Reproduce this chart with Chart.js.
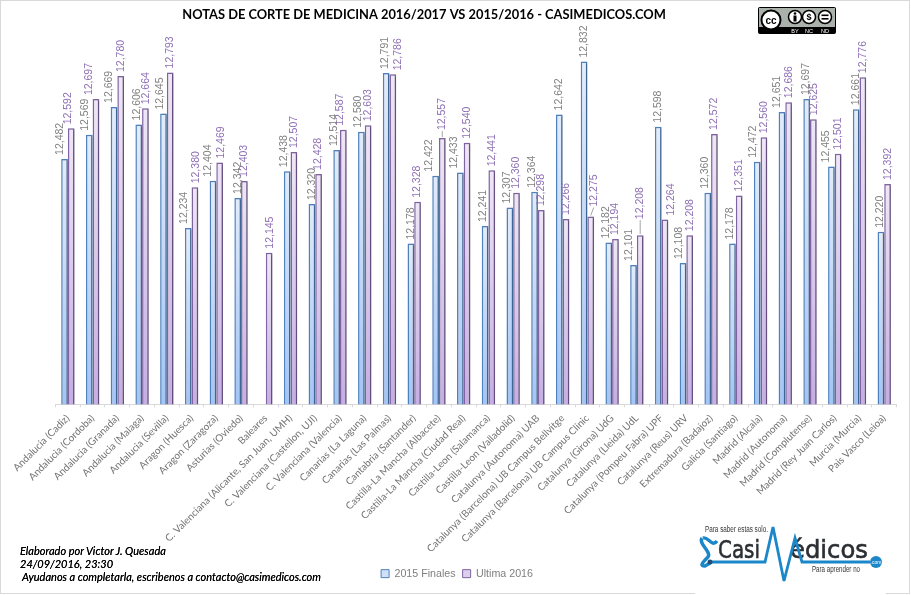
<!DOCTYPE html>
<html lang="es">
<head>
<meta charset="UTF-8">
<title>Notas de corte de Medicina</title>
<script src="https://cdn.jsdelivr.net/npm/chart.js@4"></script>
<style>
    html, body { margin: 0; padding: 0; background: #fff; }
    #wrap { position: relative; width: 911px; height: 595px; overflow: hidden; background: #fff; }
    #frame { position: absolute; left: 0; top: 0; width: 908px; height: 592px; border: 1.5px solid #d9d9d9; pointer-events: none; }
    canvas { position: absolute; left: 0; top: 0; }
    .note { position: absolute; font: italic 11px Lato, sans-serif; color: #000; white-space: nowrap; text-shadow: 0 0 .4px #000; }
    #art { position: absolute; left: 0; top: 0; }
</style>
</head>
<body>
<div id="wrap">
    <canvas id="cortes" width="911" height="595"></canvas>
    <div id="frame"></div>
    <div class="note" style="left:20px;top:544px">Elaborado por Victor J. Quesada</div>
    <div class="note" style="left:20px;top:557px">24/09/2016, 23:30</div>
    <div class="note" style="left:22px;top:570px">Ayudanos a completarla, escribenos a contacto@casimedicos.com</div>

    <svg id="art" width="911" height="595" viewBox="0 0 911 595">
        <!-- cc badge -->
        <rect x="758" y="7" width="78" height="27" rx="2" fill="#000"/>
        <rect x="759" y="8" width="76" height="19" fill="#aab2ab"/>
        <circle cx="771" cy="20" r="9.5" fill="#fff" stroke="#000" stroke-width="2"/>
        <text x="771" y="23.5" text-anchor="middle" font-family="Liberation Sans" font-weight="bold" font-size="10">cc</text>
        <circle cx="795" cy="17" r="6.5" fill="#fff" stroke="#000" stroke-width="1.5"/>
        <circle cx="809" cy="17" r="6.5" fill="#fff" stroke="#000" stroke-width="1.5"/>
        <circle cx="825" cy="17" r="6.5" fill="#fff" stroke="#000" stroke-width="1.5"/>
        <circle cx="795" cy="13.5" r="1.3" fill="#000"/>
        <rect x="793.5" y="15.5" width="3" height="6" fill="#000"/>
        <text x="809" y="20" text-anchor="middle" font-family="Liberation Sans" font-weight="bold" font-size="9">$</text>
        <rect x="821.5" y="14.5" width="7" height="1.6" fill="#000"/>
        <rect x="821.5" y="18" width="7" height="1.6" fill="#000"/>
        <text x="795" y="32.5" text-anchor="middle" fill="#fff" font-family="Liberation Sans" font-size="5.5">BY</text>
        <text x="809" y="32.5" text-anchor="middle" fill="#fff" font-family="Liberation Sans" font-size="5.5">NC</text>
        <text x="825" y="32.5" text-anchor="middle" fill="#fff" font-family="Liberation Sans" font-size="5.5">ND</text>
        <!-- casimedicos logo -->
        <rect x="695" y="520" width="191" height="75" fill="#fff"/>
        <text x="705" y="532" font-family="Liberation Sans Narrow, Liberation Sans" font-size="8.5" fill="#333" textLength="63" lengthAdjust="spacingAndGlyphs">Para saber estas solo.</text>
        <text x="812" y="572" font-family="Liberation Sans Narrow, Liberation Sans" font-size="8.5" fill="#333" textLength="48" lengthAdjust="spacingAndGlyphs">Para aprender no</text>
        <text x="718" y="558" font-family="DejaVu Sans" font-size="25" fill="#2b2f33" stroke="#2b2f33" stroke-width=".6" textLength="42" lengthAdjust="spacingAndGlyphs">Casi</text>
        <text x="790" y="558" font-family="DejaVu Sans" font-size="25" fill="#2b2f33" stroke="#2b2f33" stroke-width=".6" textLength="78" lengthAdjust="spacingAndGlyphs">édicos</text>
        <polyline points="710,562 765,562 773,527 784,581 795,538 802,562 870,562" fill="none" stroke="#1b87c9" stroke-width="2.8"/>
        <path d="M703 538 C708 536 712 548 717 541 M702 538 C698 544 712 552 708 557 C703 562 699 566 705 566 L710 563" fill="none" stroke="#1b87c9" stroke-width="3.4"/>
        <circle cx="710" cy="562" r="2.5" fill="#1f4f78"/>
        <circle cx="876" cy="562" r="6" fill="#1b87c9"/>
        <text x="876" y="564" text-anchor="middle" font-family="Liberation Sans" font-size="5" fill="#fff">.com</text>
    </svg>
</div>

<script>
    const categories = [
        "Andalucia (Cadiz)", "Andalucia (Cordoba)", "Andalucia (Granada)", "Andalucia (Malaga)",
        "Andalucia (Sevilla)", "Aragon (Huesca)", "Aragon (Zaragoza)", "Asturias (Oviedo)", "Baleares",
        "C. Valenciana (Alicante, San Juan, UMH)", "C. Valenciana (Castellon, UJI)", "C. Valenciana (Valencia)",
        "Canarias (La Laguna)", "Canarias (Las Palmas)", "Cantabria (Santander)", "Castilla-La Mancha (Albacete)",
        "Castilla-La Mancha (Ciudad Real)", "Castilla-Leon (Salamanca)", "Castilla-Leon (Valladolid)",
        "Catalunya (Autonoma) UAB", "Catalunya (Barcelona) UB Campus Bellvitge", "Catalunya (Barcelona) UB Campus Clinic",
        "Catalunya (Girona) UdG", "Catalunya (Lleida) UdL", "Catalunya (Pompeu Fabra) UPF", "Catalunya (Reus) URV",
        "Extremadura (Badajoz)", "Galicia (Santiago)", "Madrid (Alcala)", "Madrid (Autonoma)", "Madrid (Complutense)",
        "Madrid (Rey Juan Carlos)", "Murcia (Murcia)", "Pais Vasco (Leioa)"
    ];
    const finales2015 = [
        12.482, 12.569, 12.669, 12.606, 12.645, 12.234, 12.404, 12.342, null, 12.438, 12.320, 12.514,
        12.580, 12.791, 12.178, 12.422, 12.433, 12.241, 12.307, 12.364, 12.642, 12.832, 12.182, 12.101,
        12.598, 12.108, 12.360, 12.178, 12.472, 12.651, 12.697, 12.455, 12.661, 12.220
    ];
    const ultima2016 = [
        12.592, 12.697, 12.780, 12.664, 12.793, 12.380, 12.469, 12.403, 12.145, 12.507, 12.428, 12.587,
        12.603, 12.786, 12.328, 12.557, 12.540, 12.441, 12.360, 12.298, 12.266, 12.275, 12.194, 12.208,
        12.264, 12.208, 12.572, 12.351, 12.560, 12.686, 12.625, 12.501, 12.776, 12.392
    ];

    // hand moved labels in the original: sideways shift from the bar centre
    const shiftFinales = [-4, -4, -5, -2, -3, -4, -5, 0, 0, -3, 0, -3, -3, -1, 0, -6, -6, -2, -3, -2, 0, 0, -3, -4, 0, -4, -3, -2, -4, -5, -1, -5, 0, -1];
    const shiftUltima = [-3, -7, 0, 1, 0, 1, 1, 0, 1, 0, 0, -3, 0, 5, 0, 0, 0, 0, 0, 0, 0, 3, 0, 0, 6, 0, 0, 0, 0, 0, 1, 0, 0, 1];
    // extra lift with a leader line: dataset index, category index, pixels
    const leaders = [[1, 15, 4], [1, 21, 6], [1, 23, 12]];

    // vertical gradient per bar, like the excel fill
    function barFill(top, bottom) {
        return function(c) {
            const area = c.chart.chartArea;
            if (!area || c.type !== "data" || c.parsed.y == null) return bottom;
            const y = c.chart.scales.y.getPixelForValue(c.parsed.y);
            const g = c.chart.ctx.createLinearGradient(0, y, 0, area.bottom);
            g.addColorStop(0, top);
            g.addColorStop(1, bottom);
            return g;
        };
    }

    // shadow under the bars
    const barShadow = {
        id: "barShadow",
        beforeDatasetsDraw(chart) {
            const ctx = chart.ctx;
            ctx.save();
            ctx.shadowColor = "rgba(0,0,0,0.28)";
            ctx.shadowBlur = 2;
            ctx.shadowOffsetX = 1.5;
            ctx.shadowOffsetY = 0.5;
        },
        afterDatasetsDraw(chart) {
            chart.ctx.restore();
        }
    };

    // rotated value labels above each bar
    const valueLabels = {
        id: "valueLabels",
        afterDraw(chart) {
            const ctx = chart.ctx;
            chart.data.datasets.forEach((ds, i) => {
                chart.getDatasetMeta(i).data.forEach((bar, j) => {
                    if (ds.data[j] == null) return;
                    const x = bar.x + ds.labelShift[j];
                    const lead = leaders.find(l => l[0] === i && l[1] === j);
                    const lift = lead ? lead[2] : 0;
                    if (lead) {
                        ctx.strokeStyle = "#a6a6a6";
                        ctx.lineWidth = 1;
                        ctx.beginPath();
                        ctx.moveTo(bar.x, bar.y - 1);
                        ctx.lineTo(x, bar.y - 3 - lift);
                        ctx.stroke();
                    }
                    ctx.save();
                    ctx.translate(x, bar.y - 4 - lift);
                    ctx.rotate(-Math.PI / 2);
                    ctx.font = "10.5px 'Liberation Sans'";
                    ctx.fillStyle = ds.labelColor;
                    ctx.textAlign = "left";
                    ctx.textBaseline = "middle";
                    ctx.fillText(ds.data[j].toFixed(3).replace(".", ","), 0, 0);
                    ctx.restore();
                });
            });
        }
    };

    // title and legend sit off the plot centre in the original
    const shiftBoxes = {
        id: "shiftBoxes",
        afterLayout(chart) {
            chart.titleBlock.left -= 52;
            chart.titleBlock.right -= 52;
            chart.legend.left -= 19;
            chart.legend.right -= 19;
        }
    };

    new Chart(document.getElementById("cortes"), {
        type: "bar",
        data: {
            labels: categories,
            datasets: [
                { label: "2015 Finales", data: finales2015, backgroundColor: barFill("#e2ecfb", "#a3c4f5"), borderColor: "#4f81bd", borderWidth: 1.5, labelColor: "#808080", labelShift: shiftFinales },
                { label: "Ultima 2016", data: ultima2016, backgroundColor: barFill("#eee7f6", "#c5aee3"), borderColor: "#8064a2", borderWidth: 1.5, labelColor: "#8d6fb5", labelShift: shiftUltima }
            ]
        },
        plugins: [barShadow, valueLabels, shiftBoxes],
        options: {
            responsive: false,
            animation: false,
            devicePixelRatio: 1,
            layout: { padding: { top: 7, left: 55.5, right: 14.4, bottom: 6 } },
            datasets: { bar: { categoryPercentage: 0.54, barPercentage: 1 } },
            scales: {
                x: {
                    afterFit(scale) { scale.height = 157; },
                    grid: { offset: true, drawOnChartArea: false, color: "#d9d9d9", tickLength: 3 },
                    border: { color: "#d9d9d9" },
                    ticks: { autoSkip: false, minRotation: 45, maxRotation: 45, padding: 5, color: "#737373", font: { family: "Lato", size: 10 } }
                },
                y: { display: false, min: 11.6, max: 12.949 }
            },
            plugins: {
                title: {
                    display: true,
                    text: "NOTAS DE CORTE DE MEDICINA 2016/2017 VS 2015/2016 - CASIMEDICOS.COM",
                    color: "#000",
                    font: { family: "Lato", size: 12.85, weight: "bold" },
                    padding: { top: 0, bottom: 6.6 }
                },
                tooltip: { enabled: false },
                legend: {
                    position: "bottom",
                    labels: {
                        boxWidth: 8,
                        boxHeight: 8,
                        padding: 7,
                        color: "#7f7f7f",
                        font: { family: "Liberation Sans", size: 10.7 },
                        generateLabels() {
                            return [
                                { text: "2015 Finales", fillStyle: "#cfe0f8", strokeStyle: "#4f81bd", lineWidth: 1, fontColor: "#7f7f7f", datasetIndex: 0 },
                                { text: "Ultima 2016", fillStyle: "#ddd0ee", strokeStyle: "#8064a2", lineWidth: 1, fontColor: "#7f7f7f", datasetIndex: 1 }
                            ];
                        }
                    }
                }
            }
        }
    });
</script>
</body>
</html>
